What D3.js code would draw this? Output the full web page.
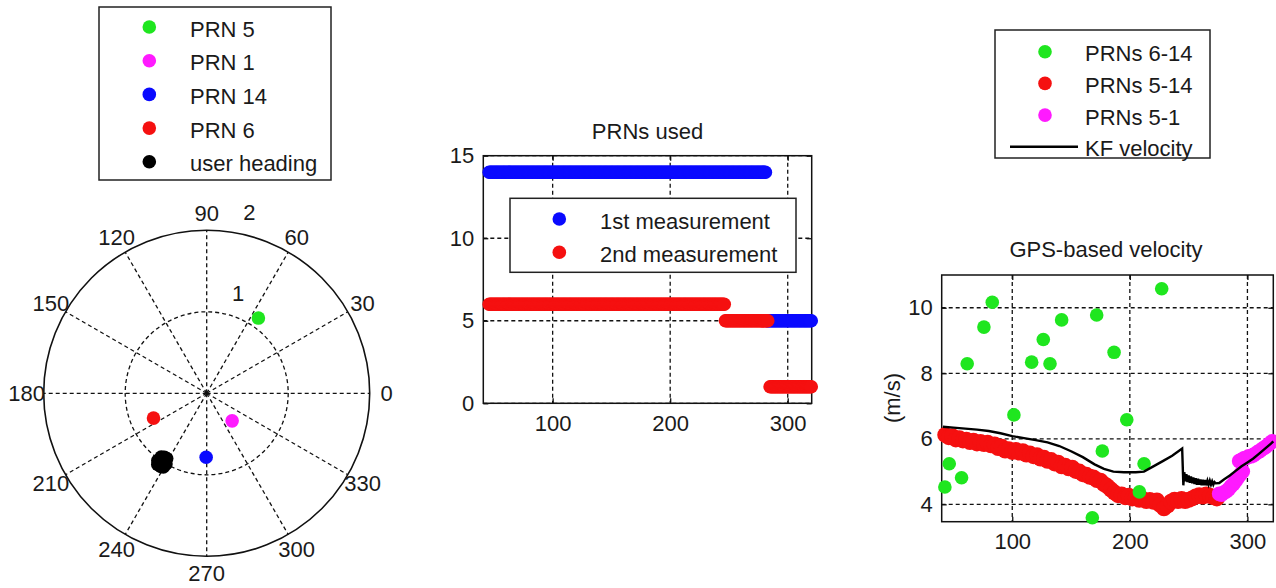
<!DOCTYPE html>
<html>
<head>
<meta charset="utf-8">
<script src="https://cdn.jsdelivr.net/npm/d3@7"></script>
<style>
  body { margin: 0; background: #fff; }
  text { font-family: "Liberation Sans", Arial, Helvetica, sans-serif; font-size: 22px; fill: #1a1a1a; }
</style>
</head>
<body>
<svg id="chart" width="1276" height="588"></svg>
<script>
// ---------------- DATA ----------------
// Polar plot: [theta (deg), r]
const polarNames = ["PRN 5", "PRN 1", "PRN 14", "PRN 6", "user heading"];
const prn5Polar = [[55.5, 1.12]];
const prn1Polar = [[312.7, 0.46]];
const prn14Polar = [[269.5, 0.785]];
const prn6Polar = [[205, 0.72]];
const userHeadingPolar = [[237, 1.0], [234.5, 0.96], [239.5, 1.05], [235.5, 1.06], [238.5, 0.94],
                          [237.5, 1.03], [236, 0.98], [240, 1.0], [234, 1.02], [238, 1.06], [236.5, 0.94]];
const polarAngleTicks = [0, 30, 60, 90, 120, 150, 180, 210, 240, 270, 300, 330];
const polarRadiusTicks = [1, 2];

// PRNs used (constant PRN over time spans)
const usedTitle = "PRNs used";
const usedNames = ["1st measurement", "2nd measurement"];
const firstMeasurement = [{ from: 46, to: 281, prn: 14 }, { from: 282, to: 320, prn: 5 }];
const secondMeasurement = [{ from: 46, to: 246, prn: 6 }, { from: 247, to: 283, prn: 5 }, { from: 285, to: 320, prn: 1 }];
const usedXTicks = [100, 200, 300];
const usedYTicks = [0, 5, 10, 15];

// GPS-based velocity
const velTitle = "GPS-based velocity";
const velYLabel = "(m/s)";
const velNames = ["PRNs 6-14", "PRNs 5-14", "PRNs 5-1", "KF velocity"];
const prn614X = [42.7, 46.4, 56.9, 61.7, 75.9, 83, 101.4, 116.5, 126.4, 132.1, 142, 168.1, 171.8, 176.6, 186.6, 197.4, 208.1, 212.1, 227.1];
const prn614Y = [4.53, 5.24, 4.81, 8.29, 9.41, 10.17, 6.73, 8.34, 9.03, 8.29, 9.63, 3.59, 9.78, 5.63, 8.64, 6.58, 4.38, 5.24, 10.58];
const prn514X = [43, 46, 49, 52, 55, 58, 61, 64, 67, 70, 73, 76, 79, 82, 85, 88, 91, 94, 97, 100,
                 103, 106, 109, 112, 115, 118, 121, 124, 127, 130, 133, 136, 139, 142, 145, 148, 151, 154, 157, 160,
                 163, 166, 169, 172, 175, 178, 181, 184, 187, 190, 193, 196, 199, 202, 205, 208, 211, 214, 217, 220,
                 223, 226, 229, 232, 235, 238, 241, 244, 247, 250, 253, 256, 259, 262, 265, 268, 271, 274];
const prn514Y = [6.12, 6.05, 6.08, 5.98, 6.02, 5.95, 5.97, 5.90, 5.94, 5.86, 5.90, 5.84, 5.88, 5.80, 5.83, 5.72, 5.76, 5.64, 5.68, 5.60,
                 5.66, 5.58, 5.62, 5.52, 5.55, 5.47, 5.50, 5.40, 5.42, 5.33, 5.35, 5.25, 5.27, 5.16, 5.18, 5.10, 5.12, 5.02, 5.00, 4.92,
                 4.90, 4.84, 4.82, 4.74, 4.72, 4.62, 4.55, 4.45, 4.36, 4.28, 4.30, 4.22, 4.26, 4.18, 4.20, 4.14, 4.16, 4.10, 4.13, 4.08,
                 4.12, 3.98, 3.88, 3.96, 4.08, 4.14, 4.10, 4.16, 4.10, 4.14, 4.18, 4.24, 4.28, 4.24, 4.30, 4.26, 4.22, 4.18];
const prn51X = [276, 278, 280, 282, 284, 286, 288, 290, 292, 294, 296,
                293, 295, 297, 299, 301, 303, 305, 307, 309, 311, 313, 315, 317, 319, 321];
const prn51Y = [4.32, 4.30, 4.36, 4.40, 4.46, 4.55, 4.62, 4.72, 4.82, 4.92, 5.00,
                5.32, 5.36, 5.40, 5.42, 5.46, 5.47, 5.50, 5.55, 5.60, 5.64, 5.70, 5.74, 5.80, 5.86, 5.92];
const kfX = [41, 50, 60, 70, 80, 90, 100, 110, 120, 130, 140, 150, 160, 170, 178, 186, 195, 205, 212, 220, 228, 236, 244.5,
             245.5, 246.3, 247.2, 248.1, 249, 250, 251, 252, 253, 254, 255, 256, 257, 258, 259, 260, 261, 262, 263, 264, 265, 266, 267, 268, 269, 270, 271, 272, 273,
             276, 280, 285, 290, 295, 300, 305, 310, 315, 320, 322];
const kfY = [6.37, 6.34, 6.31, 6.28, 6.24, 6.17, 6.08, 6.02, 5.96, 5.89, 5.78, 5.62, 5.44, 5.22, 5.08, 5.00, 4.98, 4.98, 5.00, 5.16, 5.32, 5.48, 5.70,
             4.58, 4.98, 4.70, 4.92, 4.68, 4.88, 4.66, 4.85, 4.64, 4.82, 4.62, 4.80, 4.60, 4.78, 4.60, 4.76, 4.58, 4.75, 4.58, 4.74, 4.58, 4.72, 4.60, 4.72, 4.60, 4.70, 4.60, 4.68, 4.64,
             4.65, 4.76, 4.88, 5.02, 5.16, 5.28, 5.40, 5.55, 5.70, 5.85, 5.92];
const velXTicks = [100, 200, 300];
const velYTicks = [4, 6, 8, 10];

// ---------------- STYLE ----------------
const C = { green: "#1fe61f", magenta: "#ff1aff", blue: "#0a0aff", red: "#f51010", black: "#000" };
const DASH = "4,3";
const MR = 6.8; // marker radius

const svg = d3.select("#chart");
svg.append("rect").attr("width", 1276).attr("height", 588).attr("fill", "#fff");

function legend(x0, y0, w, h, items, markerX, textX, rowY0, rowStep) {
  const g = svg.append("g");
  g.append("rect").attr("x", x0).attr("y", y0).attr("width", w).attr("height", h)
    .attr("fill", "#fff").attr("stroke", "#222").attr("stroke-width", 1.5);
  items.forEach((it, i) => {
    const y = rowY0 + i * rowStep;
    if (it.type === "line") {
      g.append("line").attr("x1", markerX - 35).attr("x2", markerX + 33).attr("y1", y).attr("y2", y)
        .attr("stroke", it.color).attr("stroke-width", 2.6);
    } else {
      g.append("circle").attr("cx", markerX).attr("cy", y).attr("r", MR).attr("fill", it.color);
    }
    g.append("text").attr("x", textX).attr("y", y + 9.5).text(it.name);
  });
}

// ---------------- POLAR ----------------
(function () {
  const cx = 206.7, cy = 393.3;
  const rS = d3.scaleLinear().domain([0, 2]).range([0, 163]);
  const rad = d => d * Math.PI / 180;
  const g = svg.append("g").attr("transform", `translate(${cx},${cy})`);
  g.selectAll("line.spoke").data(polarAngleTicks).join("line").attr("class", "spoke")
    .attr("x1", 0).attr("y1", 0)
    .attr("x2", t => rS(2) * Math.cos(rad(t))).attr("y2", t => -rS(2) * Math.sin(rad(t)))
    .attr("stroke", "#111").attr("stroke-width", 1.3).attr("stroke-dasharray", DASH);
  g.selectAll("circle.ring").data(polarRadiusTicks).join("circle").attr("class", "ring")
    .attr("r", d => rS(d)).attr("fill", "none").attr("stroke", "#111")
    .attr("stroke-width", d => d === 2 ? 1.6 : 1.3)
    .attr("stroke-dasharray", d => d === 2 ? null : DASH);
  g.selectAll("text.ang").data(polarAngleTicks).join("text").attr("class", "ang")
    .attr("x", t => (rS(2) + 17) * Math.cos(rad(t)))
    .attr("y", t => -(rS(2) + 17) * Math.sin(rad(t)))
    .attr("dy", "0.35em").attr("text-anchor", "middle").text(t => t);
  g.selectAll("text.rl").data(polarRadiusTicks).join("text").attr("class", "rl")
    .attr("x", d => rS(d) * Math.cos(rad(82)) + 14)
    .attr("y", d => -rS(d) * Math.sin(rad(82)) - 12)
    .text(d => d);
  const series = [
    { data: prn5Polar, color: C.green }, { data: prn1Polar, color: C.magenta },
    { data: prn14Polar, color: C.blue }, { data: prn6Polar, color: C.red },
    { data: userHeadingPolar, color: C.black }];
  series.forEach(s => {
    g.selectAll(null).data(s.data).join("circle")
      .attr("cx", d => rS(d[1]) * Math.cos(rad(d[0])))
      .attr("cy", d => -rS(d[1]) * Math.sin(rad(d[0])))
      .attr("r", MR).attr("fill", s.color);
  });
  legend(99, 7, 232, 173,
    polarNames.map((n, i) => ({ name: n, color: [C.green, C.magenta, C.blue, C.red, C.black][i] })),
    149.3, 190, 27, 33.7);
})();

// ---------------- generic cartesian frame ----------------
function frame(x, y, xt, yt) {
  const [L, R] = x.range(), [B, T] = y.range();
  const g = svg.append("g");
  g.selectAll(null).data(xt).join("line").attr("x1", d => x(d)).attr("x2", d => x(d)).attr("y1", T).attr("y2", B)
    .attr("stroke", "#111").attr("stroke-width", 1.3).attr("stroke-dasharray", DASH);
  g.selectAll(null).data(yt).join("line").attr("x1", L).attr("x2", R).attr("y1", d => y(d)).attr("y2", d => y(d))
    .attr("stroke", "#111").attr("stroke-width", 1.3).attr("stroke-dasharray", DASH);
  const ax = (gen, tr) => {
    const a = g.append("g").attr("transform", tr).call(gen);
    a.select(".domain").remove();
    a.selectAll(".tick line").attr("stroke", "#111").attr("stroke-width", 1.3);
    a.selectAll(".tick text").attr("font-size", null).attr("font-family", null).attr("fill", null);
    return a;
  };
  ax(d3.axisBottom(x).tickValues(xt).tickSizeInner(-5).tickSizeOuter(0).tickPadding(12), `translate(0,${B})`);
  ax(d3.axisTop(x).tickValues(xt).tickSizeInner(-5).tickSizeOuter(0).tickFormat(""), `translate(0,${T})`);
  ax(d3.axisLeft(y).tickValues(yt).tickSizeInner(-5).tickSizeOuter(0).tickPadding(9), `translate(${L},0)`);
  ax(d3.axisRight(y).tickValues(yt).tickSizeInner(-5).tickSizeOuter(0).tickFormat(""), `translate(${R},0)`);
  g.append("rect").attr("x", L).attr("y", T).attr("width", R - L).attr("height", B - T)
    .attr("fill", "none").attr("stroke", "#111").attr("stroke-width", 1.5);
  return g;
}

// ---------------- PRNs used ----------------
(function () {
  const x = d3.scaleLinear().domain([41, 320.4]).range([483.3, 811.7]);
  const y = d3.scaleLinear().domain([0, 15]).range([403.3, 155.7]);
  frame(x, y, usedXTicks, usedYTicks);
  const expand = segs => segs.flatMap(s => d3.range(s.from, s.to + 0.001, 1).map(t => ({ t, prn: s.prn })));
  const g = svg.append("g");
  [[firstMeasurement, C.blue], [secondMeasurement, C.red]].forEach(([segs, col]) => {
    g.selectAll(null).data(expand(segs)).join("circle")
      .attr("cx", d => x(d.t)).attr("cy", d => y(d.prn)).attr("r", MR).attr("fill", col);
  });
  svg.append("text").attr("x", 647.5).attr("y", 139).attr("text-anchor", "middle").text(usedTitle);
  legend(510, 198.3, 286, 74,
    usedNames.map((n, i) => ({ name: n, color: [C.blue, C.red][i] })), 559.3, 600, 219, 33.3);
})();

// ---------------- GPS-based velocity ----------------
(function () {
  const x = d3.scaleLinear().domain([40, 322]).range([941.7, 1273.3]);
  const y = d3.scaleLinear().domain([3.47, 11]).range([521.7, 275]);
  frame(x, y, velXTicks, velYTicks);
  const g = svg.append("g");
  const pts = (X, Y) => X.map((v, i) => [v, Y[i]]);
  g.selectAll(null).data(pts(prn514X, prn514Y)).join("circle")
    .attr("cx", d => x(d[0])).attr("cy", d => y(d[1])).attr("r", 8).attr("fill", C.red);
  g.selectAll(null).data(pts(prn51X, prn51Y)).join("circle")
    .attr("cx", d => x(d[0])).attr("cy", d => y(d[1])).attr("r", 7.4).attr("fill", C.magenta);
  g.selectAll(null).data(pts(prn614X, prn614Y)).join("circle")
    .attr("cx", d => x(d[0])).attr("cy", d => y(d[1])).attr("r", MR).attr("fill", C.green);
  g.append("path").datum(pts(kfX, kfY))
    .attr("d", d3.line().x(d => x(d[0])).y(d => y(d[1])))
    .attr("fill", "none").attr("stroke", C.black).attr("stroke-width", 2.4);
  svg.append("text").attr("x", 1106).attr("y", 257).attr("text-anchor", "middle").text(velTitle);
  svg.append("text").attr("transform", "translate(900,398) rotate(-90)").attr("text-anchor", "middle").text(velYLabel);
  legend(995, 30, 215, 128,
    velNames.map((n, i) => ({ name: n, color: [C.green, C.red, C.magenta, C.black][i], type: i === 3 ? "line" : "dot" })),
    1045, 1085, 51.7, 31.7);
})();
</script>
</body>
</html>
